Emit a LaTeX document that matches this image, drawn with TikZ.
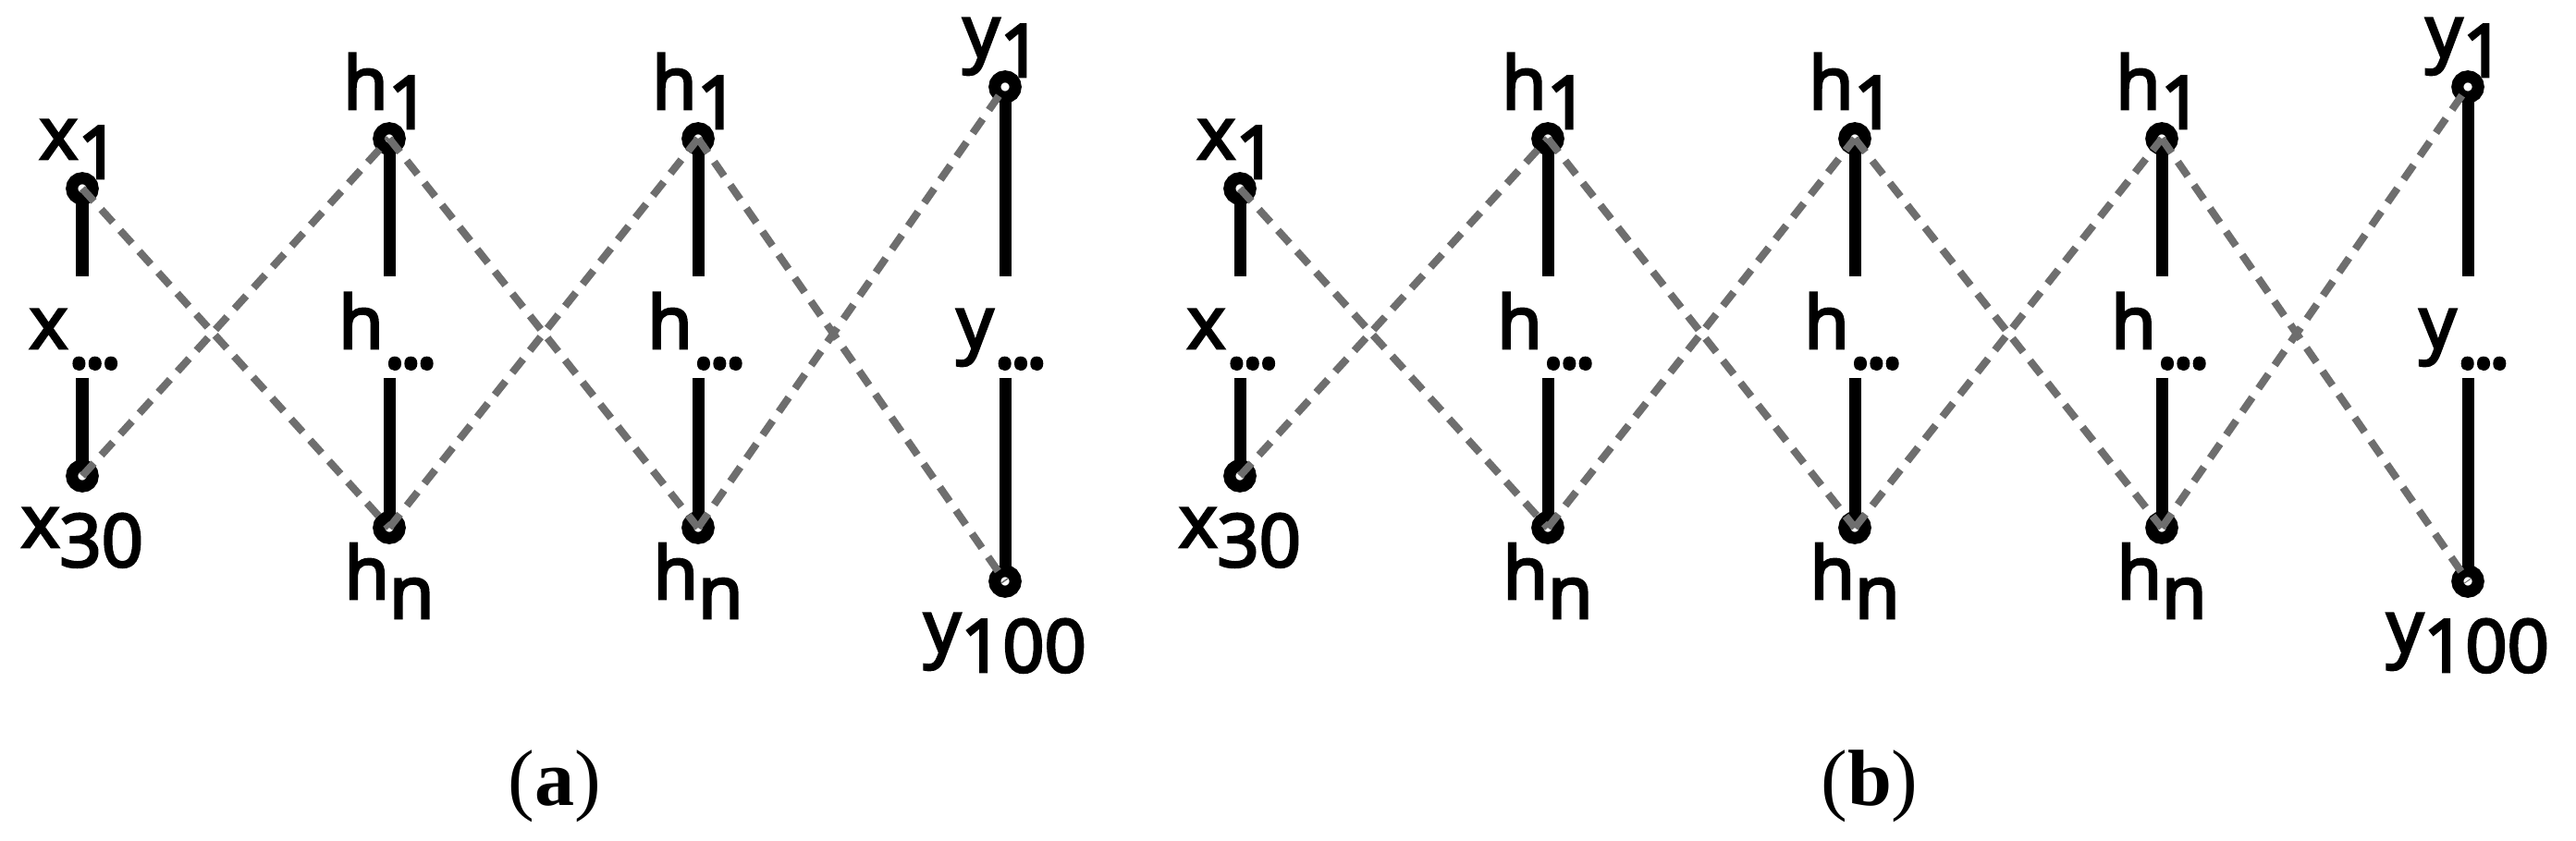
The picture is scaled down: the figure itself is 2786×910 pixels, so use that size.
\documentclass[tikz,border=0pt]{standalone}
\usepackage{fontspec}
\newfontfamily\labfont[FakeBold=3.5]{Open Sans}
\newfontfamily\capfont{Liberation Serif}
\newcommand\lbl[2]{#1\raisebox{-6pt}{#2}}
\newcommand\tdots{{\fontsize{26}{30}\selectfont .\kern-2pt.\kern-2pt.}}
\tikzset{
  vline/.style={line width=3.7pt},
  unitdot/.style={circle, draw, fill=white, line width=3.7pt, minimum size=0.225cm, inner sep=0pt},
  conn/.style={draw=black!57, line width=2.3pt, dash pattern=on 5.3pt off 3.4pt},
  lab/.style={anchor=base, inner sep=0pt, font=\labfont\fontsize{22.5}{27}\selectfont},
  captext/.style={anchor=base, inner sep=0pt, font=\capfont\fontsize{24.5}{29}\selectfont},
}
% name, cx, top y, bottom y, letter, top subscript, bottom subscript, mid-label shift
\newcommand\mycol[8]{%
  \coordinate (#1tc) at (#2,#3);
  \coordinate (#1bc) at (#2,#4);
  \coordinate (#1u) at (#2,299);
  \coordinate (#1l) at (#2,409);
  \draw[vline] (#1tc) -- (#1u);
  \draw[vline] (#1l) -- (#1bc);
  \node[unitdot] (#1t) at (#1tc) {};
  \node[unitdot] (#1b) at (#1bc) {};
  \node[lab] (#1tl) at (#2-3,#3-32) {\lbl{#5}{#6}};
  \node[lab] (#1ml) at (#2+#8,377) {\lbl{#5}{\tdots}};
  \node[lab] (#1bl) at (#2,#4+77) {\lbl{#5}{#7}};
}
\begin{document}
\begin{tikzpicture}[x=0.01cm, y=-0.01cm]
\useasboundingbox (0,0) rectangle (2786,910);
% panel (a)
\mycol{ax}{89}{204}{515}{x}{1}{30}{-7}
\mycol{ah}{421}{150}{571}{h}{1}{n}{-1}
\mycol{ag}{755}{150}{571}{h}{1}{n}{-1}
\mycol{ay}{1087}{94}{629}{y}{1}{100}{-3}
\draw[conn] (axt.center) -- (ahb.center);
\draw[conn] (axb.center) -- (aht.center);
\draw[conn] (aht.center) -- (agb.center);
\draw[conn] (ahb.center) -- (agt.center);
\draw[conn] (agt.center) -- (ayb.center);
\draw[conn] (agb.center) -- (ayt.center);
\node[captext] (capa) at (600,871) {(\textbf{a})};
% panel (b)
\mycol{bx}{1341}{204}{515}{x}{1}{30}{-7}
\mycol{bh}{1674}{150}{571}{h}{1}{n}{-1}
\mycol{bg}{2006}{150}{571}{h}{1}{n}{-1}
\mycol{bk}{2338}{150}{571}{h}{1}{n}{-1}
\mycol{by}{2669}{94}{629}{y}{1}{100}{-3}
\draw[conn] (bxt.center) -- (bhb.center);
\draw[conn] (bxb.center) -- (bht.center);
\draw[conn] (bht.center) -- (bgb.center);
\draw[conn] (bhb.center) -- (bgt.center);
\draw[conn] (bgt.center) -- (bkb.center);
\draw[conn] (bgb.center) -- (bkt.center);
\draw[conn] (bkt.center) -- (byb.center);
\draw[conn] (bkb.center) -- (byt.center);
\node[captext] (capb) at (2022,871) {(\textbf{b})};
\end{tikzpicture}
\end{document}
